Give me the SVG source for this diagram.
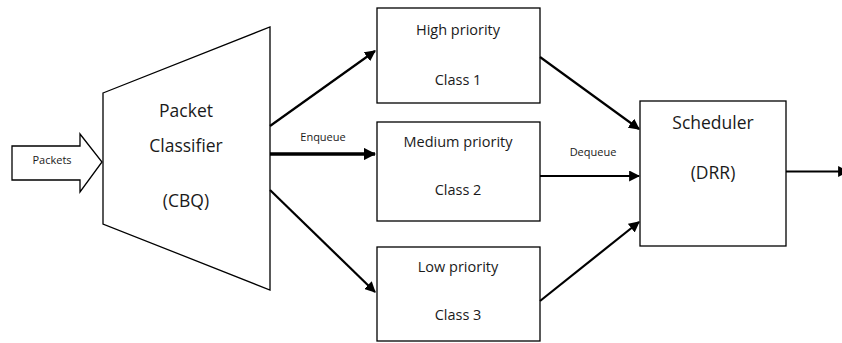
<svg xmlns="http://www.w3.org/2000/svg" width="842" height="343" viewBox="0 0 842 343">
<style>
.shape{fill:#fff;stroke:#000;stroke-width:1.3}
.t{font-family:"Open Sans","Noto Sans","Liberation Sans",sans-serif;fill:#1a1a1a;text-anchor:middle;font-weight:500}
.big{font-size:17.5px}
.mid{font-size:14.5px}
.sm{font-size:11px;font-weight:400}
.ln{stroke:#000;stroke-width:2.2;fill:none}
.thick{stroke-width:3.6}
</style>
<defs>
<marker id="ah" viewBox="0 0 10 10" refX="9" refY="5" markerWidth="5" markerHeight="5" orient="auto" markerUnits="strokeWidth">
<path d="M0,0 L10,5 L0,10 z" fill="#000"/>
</marker>
<marker id="ahs" viewBox="0 0 10 10" refX="9" refY="5" markerWidth="3.4" markerHeight="3.4" orient="auto" markerUnits="strokeWidth">
<path d="M0,0 L10,5 L0,10 z" fill="#000"/>
</marker>
</defs>
<rect width="842" height="343" fill="#fff"/>
<g id="packets">
<path class="shape" d="M12,146 L80,146 L80,134 L102,162 L80,192 L80,180 L12,180 z"/>
<text class="t sm" x="52" y="164">Packets</text>
</g>
<g id="classifier">
<path class="shape" d="M103,93 L270,27 L270,290 L103,224 z"/>
<text class="t big" x="186" y="117">Packet</text>
<text class="t big" x="186" y="152">Classifier</text>
<text class="t big" x="186" y="207">(CBQ)</text>
</g>
<g id="class1">
<rect class="shape" x="377" y="8" width="163" height="95"/>
<text class="t mid" x="458" y="35">High priority</text>
<text class="t mid" x="458" y="85">Class 1</text>
</g>
<g id="class2">
<rect class="shape" x="377" y="122" width="163" height="99"/>
<text class="t mid" x="458" y="147">Medium priority</text>
<text class="t mid" x="458" y="195">Class 2</text>
</g>
<g id="class3">
<rect class="shape" x="377" y="247" width="163" height="94"/>
<text class="t mid" x="458" y="272">Low priority</text>
<text class="t mid" x="458" y="320">Class 3</text>
</g>
<g id="scheduler">
<rect class="shape" x="640" y="101" width="146" height="145"/>
<text class="t big" x="713" y="129">Scheduler</text>
<text class="t big" x="713" y="179">(DRR)</text>
</g>
<g id="connectors">
<line class="ln" x1="270" y1="126" x2="375" y2="51" marker-end="url(#ah)"/>
<line class="ln thick" x1="270" y1="154" x2="375" y2="154" marker-end="url(#ahs)"/>
<line class="ln" x1="270" y1="190" x2="375" y2="292" marker-end="url(#ah)"/>
<text class="t sm" x="323" y="141">Enqueue</text>
<line class="ln" x1="540" y1="57" x2="639" y2="129" marker-end="url(#ah)"/>
<line class="ln" x1="540" y1="176" x2="639" y2="176" marker-end="url(#ah)"/>
<line class="ln" x1="540" y1="301" x2="639" y2="222" marker-end="url(#ah)"/>
<text class="t sm" x="593" y="156">Dequeue</text>
<line class="ln" x1="786" y1="171.5" x2="848" y2="171.5" marker-end="url(#ah)"/>
</g>
</svg>
